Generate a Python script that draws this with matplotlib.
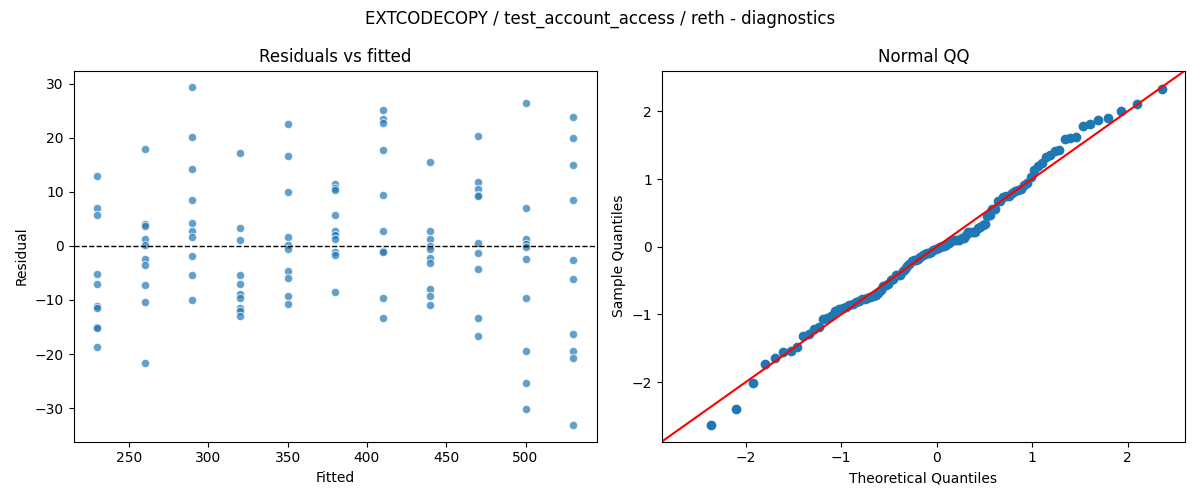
import numpy as np
import matplotlib
matplotlib.use("Agg")
import matplotlib.pyplot as plt
from statistics import NormalDist

TITLE = "EXTCODECOPY / test_account_access / reth - diagnostics"

# fitted levels and the residuals
fitted_levels = [230, 260, 290, 320, 350, 380, 410, 440, 470, 500, 530]
res_230 = [13.0, 7.0, 5.7, -5.2, -7.0, -11.2, -11.4, -15.0, -15.2, -18.7]
res_260 = [18.0, 4.1, 3.6, 1.2, 0.2, -2.5, -3.6, -7.3, -10.3, -21.7]
res_290 = [29.3, 20.2, 14.3, 8.4, 4.3, 2.7, 1.6, -1.9, -5.3, -10.1]
res_320 = [17.1, 3.4, 1.0, -5.3, -7.1, -8.9, -9.7, -11.5, -12.0, -12.9]
res_350 = [22.5, 16.7, 10.0, 1.7, 0.2, -0.5, -4.6, -6.0, -9.3, -10.7]
res_380 = [11.5, 10.7, 10.3, 5.8, 2.7, 2.1, 1.3, -1.1, -1.6, -8.6]
res_410 = [25.2, 23.5, 22.7, 17.8, 9.5, 2.8, -1.0, -1.2, -9.7, -13.4]
res_440 = [15.6, 2.8, 1.3, 0.0, -0.6, -2.3, -3.2, -8.0, -9.2, -10.9]
res_470 = [20.4, 11.8, 10.6, 9.4, 9.3, 0.6, -1.3, -4.2, -13.3, -16.6]
res_500 = [26.5, 7.0, 1.2, 0.4, -0.2, -2.5, -9.6, -19.5, -25.4, -30.2]
res_530 = [23.9, 20.0, 14.9, 8.4, -2.6, -6.2, -16.3, -19.4, -20.7, -33.1]

residual_groups = [res_230, res_260, res_290, res_320, res_350, res_380,
                   res_410, res_440, res_470, res_500, res_530]

fitted = []
resid = []
for lvl, grp in zip(fitted_levels, residual_groups):
    fitted += [lvl] * len(grp)
    resid += grp
fitted = np.array(fitted, dtype=float)
resid = np.array(resid)

fig, (ax1, ax2) = plt.subplots(1, 2, figsize=(12, 5), dpi=100)

ax1.scatter(fitted, resid, s=36, alpha=0.7, color="#1f77b4",
            edgecolors="white", linewidths=0.75)
ax1.axhline(0, color="black", linestyle="--", linewidth=1)
ax1.set_title("Residuals vs fitted", fontsize=12)
ax1.set_xlabel("Fitted")
ax1.set_ylabel("Residual")

# normal QQ of standardized residuals, statsmodels style (line='45')
z = np.sort((resid - resid.mean()) / resid.std(ddof=1))
n = len(z)
theo = np.array([NormalDist().inv_cdf(i / (n + 1)) for i in range(1, n + 1)])
ax2.plot(theo, z, "o", color="#1f77b4", markersize=6)
xl, yl = ax2.get_xlim(), ax2.get_ylim()
lo, hi = min(xl[0], yl[0]), max(xl[1], yl[1])
ax2.plot([lo, hi], [lo, hi], color="red")
ax2.set_xlim(lo, hi)
ax2.set_ylim(lo, hi)
ax2.set_title("Normal QQ", fontsize=12)
ax2.set_xlabel("Theoretical Quantiles")
ax2.set_ylabel("Sample Quantiles")

fig.suptitle(TITLE, fontsize=12)
fig.tight_layout()
fig.savefig("out.png")
